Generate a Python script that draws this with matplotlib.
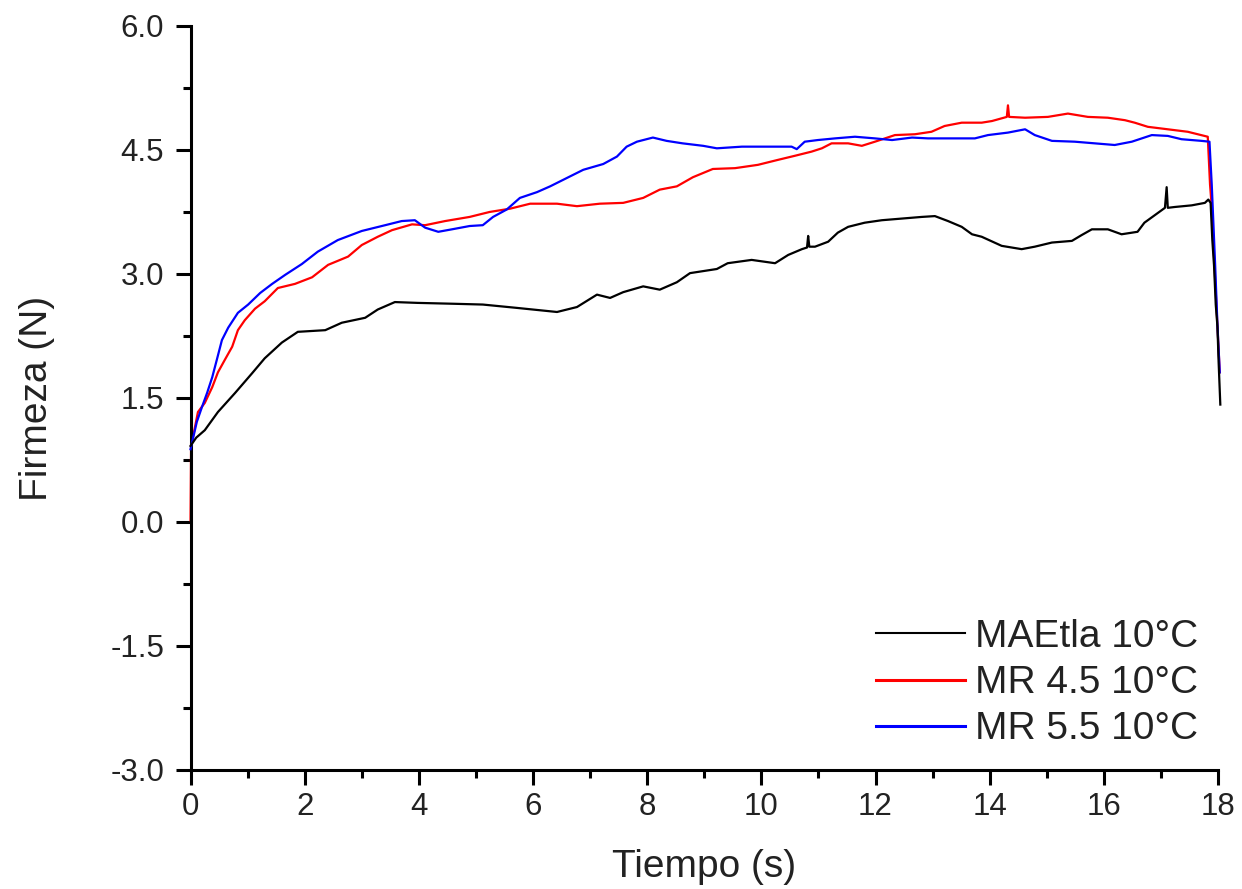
import matplotlib
matplotlib.use("Agg")
import matplotlib.pyplot as plt
from matplotlib.ticker import MultipleLocator, FormatStrFormatter

plt.rcParams['font.family'] = ['Liberation Sans', 'DejaVu Sans']

# MAEtla 10°C (black)
t_etla = [0.0, 0.1, 0.25, 0.48, 0.78, 1.08, 1.30, 1.60, 1.88, 2.36, 2.65, 3.06, 3.28, 3.58, 3.98,
          4.58, 5.12, 5.71, 6.42, 6.77, 7.12, 7.35, 7.58, 7.93, 8.22, 8.52, 8.75, 9.22, 9.41,
          9.83, 10.24, 10.47, 10.71, 10.80, 10.82, 10.84, 10.94, 11.17, 11.34, 11.52, 11.81,
          12.11, 12.46, 12.81, 13.04, 13.27, 13.51, 13.69, 13.86, 14.21, 14.56, 14.79, 15.09,
          15.44, 15.61, 15.79, 16.07, 16.31, 16.59, 16.71, 16.89, 17.07, 17.10, 17.12, 17.24,
          17.54, 17.77, 17.83, 17.87, 17.90, 17.93, 17.96, 17.99, 18.01, 18.04]
f_etla = [0.92, 1.02, 1.11, 1.33, 1.56, 1.80, 1.98, 2.17, 2.30, 2.32, 2.41, 2.47, 2.57, 2.66, 2.65,
          2.64, 2.63, 2.59, 2.54, 2.60, 2.75, 2.71, 2.78, 2.85, 2.81, 2.90, 3.01, 3.06, 3.13,
          3.17, 3.13, 3.23, 3.30, 3.32, 3.46, 3.33, 3.33, 3.39, 3.50, 3.57, 3.62,
          3.65, 3.67, 3.69, 3.70, 3.64, 3.57, 3.48, 3.45, 3.34, 3.30, 3.33, 3.38,
          3.40, 3.47, 3.54, 3.54, 3.48, 3.51, 3.62, 3.71, 3.80, 4.05, 3.80, 3.81,
          3.83, 3.86, 3.90, 3.86, 3.41, 3.10, 2.63, 2.36, 1.94, 1.42]

# MR 4.5 10°C (red)
t_mr45 = [0.0, 0.01, 0.05, 0.13, 0.25, 0.38, 0.48, 0.60, 0.73, 0.83, 0.95, 1.13, 1.30, 1.53, 1.83,
          2.13, 2.41, 2.76, 3.00, 3.28, 3.53, 3.88, 4.11, 4.46, 4.89, 5.24, 5.60, 5.95, 6.42,
          6.77, 7.17, 7.58, 7.93, 8.22, 8.52, 8.80, 9.15, 9.54, 9.94, 10.29, 10.59, 10.88,
          11.06, 11.23, 11.52, 11.76, 11.99, 12.34, 12.69, 12.98, 13.21, 13.51, 13.86, 14.04,
          14.30, 14.32, 14.34, 14.62, 15.02, 15.37, 15.72, 16.07, 16.37, 16.54, 16.77, 17.12,
          17.47, 17.82, 17.86, 17.88, 18.03]
f_mr45 = [0.02, 0.95, 1.05, 1.33, 1.44, 1.63, 1.81, 1.96, 2.12, 2.32, 2.44, 2.58, 2.67, 2.83, 2.88,
          2.96, 3.11, 3.21, 3.35, 3.45, 3.53, 3.60, 3.59, 3.64, 3.69, 3.75, 3.79, 3.85, 3.85,
          3.82, 3.85, 3.86, 3.92, 4.02, 4.06, 4.17, 4.27, 4.28, 4.32, 4.38, 4.43, 4.48,
          4.52, 4.58, 4.58, 4.55, 4.60, 4.68, 4.69, 4.72, 4.79, 4.83, 4.83, 4.85,
          4.90, 5.04, 4.90, 4.89, 4.90, 4.94, 4.90, 4.89, 4.86, 4.83, 4.78, 4.75,
          4.72, 4.66, 4.08, 3.90, 1.81]

# MR 5.5 10°C (blue)
t_mr55 = [0.0, 0.11, 0.20, 0.29, 0.38, 0.46, 0.55, 0.66, 0.83, 1.01, 1.22, 1.43, 1.66, 1.95, 2.23,
          2.58, 3.00, 3.41, 3.70, 3.93, 4.11, 4.34, 4.58, 4.89, 5.12, 5.30, 5.54, 5.77, 6.07,
          6.30, 6.59, 6.88, 7.23, 7.47, 7.64, 7.82, 8.10, 8.34, 8.62, 8.98, 9.22, 9.66, 10.11,
          10.53, 10.62, 10.76, 10.99, 11.29, 11.64, 11.99, 12.29, 12.64, 12.92, 13.39, 13.74,
          13.97, 14.32, 14.62, 14.79, 15.09, 15.49, 15.84, 16.19, 16.49, 16.84, 17.12, 17.36,
          17.71, 17.85, 17.89, 17.95, 17.99, 18.03]
f_mr55 = [0.88, 1.21, 1.39, 1.56, 1.75, 1.96, 2.20, 2.35, 2.53, 2.63, 2.77, 2.88, 2.99, 3.12, 3.27,
          3.41, 3.52, 3.59, 3.64, 3.65, 3.56, 3.51, 3.54, 3.58, 3.59, 3.69, 3.78, 3.92, 3.99,
          4.06, 4.16, 4.26, 4.33, 4.42, 4.54, 4.60, 4.65, 4.61, 4.58, 4.55, 4.52, 4.54, 4.54,
          4.54, 4.51, 4.60, 4.62, 4.64, 4.66, 4.64, 4.62, 4.65, 4.64, 4.64, 4.64,
          4.68, 4.71, 4.75, 4.68, 4.61, 4.60, 4.58, 4.56, 4.60, 4.68, 4.67, 4.63,
          4.61, 4.60, 4.08, 3.10, 2.38, 1.81]

labels = ['MAEtla 10°C', 'MR 4.5 10°C', 'MR 5.5 10°C']
x_ticks = list(range(0, 19, 2))
y_ticks = [-3.0, -1.5, 0.0, 1.5, 3.0, 4.5, 6.0]

fig = plt.figure(figsize=(12.42, 8.89), dpi=100)
ax = fig.add_axes([0.1534, 0.1339, 0.8273, 0.8369])

ax.plot(t_mr45, f_mr45, color='#ff0000', lw=1.6, label=labels[1], clip_on=False, zorder=2)
ax.plot(t_mr55, f_mr55, color='#0000ff', lw=1.6, label=labels[2], clip_on=False, zorder=3)
ax.plot(t_etla, f_etla, color='black', lw=1.6, label=labels[0], clip_on=False, zorder=4)

ax.set_xlim(0, 18)
ax.set_ylim(-3.0, 6.0)
ax.set_xticks(x_ticks)
ax.set_yticks(y_ticks)
ax.xaxis.set_minor_locator(MultipleLocator(1))
ax.yaxis.set_minor_locator(MultipleLocator(0.75))
ax.yaxis.set_major_formatter(FormatStrFormatter('%.1f'))

for side in ['top', 'right']:
    ax.spines[side].set_visible(False)
for side in ['left', 'bottom']:
    ax.spines[side].set_linewidth(2.2)

ax.tick_params(which='major', direction='out', length=11, width=2.2,
               labelsize=22.5, labelcolor='#222222')
ax.tick_params(which='minor', direction='out', length=6, width=2.2)
ax.tick_params(axis='y', which='major', pad=8)
ax.tick_params(axis='x', which='major', pad=5)

ax.set_xlabel('Tiempo (s)', fontsize=28, color='#222222', labelpad=19)
ax.set_ylabel('Firmeza (N)', fontsize=28, color='#222222', labelpad=40)

handles, labs = ax.get_legend_handles_labels()
order = [2, 0, 1]
leg = ax.legend([handles[i] for i in order], [labs[i] for i in order],
                loc='upper left', bbox_to_anchor=(876 / 1242, 1 - 619 / 889),
                bbox_transform=fig.transFigure, frameon=False, fontsize=28,
                handlelength=2.3, handletextpad=0.25, labelspacing=0.26,
                borderpad=0, borderaxespad=0, labelcolor='#222222')
for ln, w in zip(leg.get_lines(), [1.5, 2.2, 2.2]):
    ln.set_linewidth(w)

fig.savefig('out.png', dpi=100)
